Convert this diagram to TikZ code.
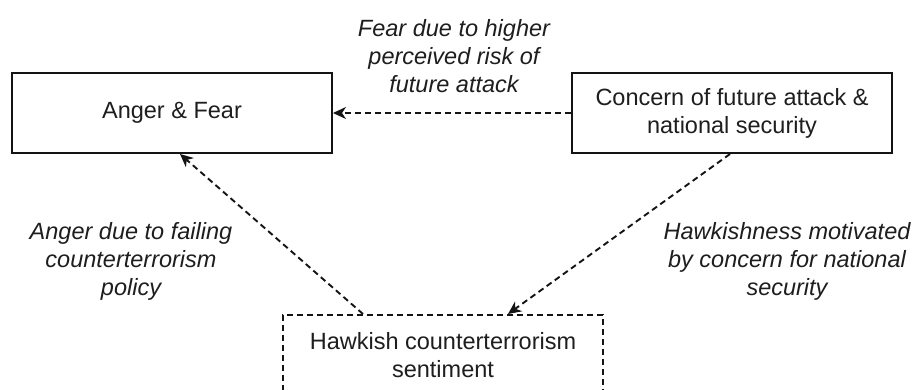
\documentclass[tikz,border=0pt]{standalone}
\usepackage{fontspec}
\setmainfont{Liberation Sans}
\usetikzlibrary{arrows.meta}
\definecolor{txt}{HTML}{1E1E1E}
\definecolor{ln}{HTML}{141414}
\tikzset{
  box/.style={draw=ln, line width=2pt, minimum width=320pt, minimum height=80pt, inner sep=0pt, align=center, text=txt, font=\fontsize{23.5}{28}\selectfont},
  dbox/.style={box, dash pattern=on 6pt off 4pt},
  lbl/.style={align=center, text=txt, font=\fontsize{23.5}{28}\selectfont\itshape, inner sep=0pt},
  conn/.style={draw=ln, line width=1.9pt, dash pattern=on 6pt off 4pt, -{Stealth[length=13pt, width=12pt, inset=4pt]}}
}
\begin{document}
\begin{tikzpicture}[x=1pt, y=-1pt]
\useasboundingbox (0,0) rectangle (917,390);
\clip (0,0) rectangle (917,390);
\fill[white] (0,0) rectangle (917,390);
\node[box] (anger) at (172,113) {Anger \& Fear};
\node[box] (concern) at (732,113) {Concern of future attack \&\\national security};
\node[dbox] (hawk) at (443,355) {Hawkish counterterrorism\\sentiment};
\node[lbl] (l1) at (454,56) {Fear due to higher\\perceived risk of\\future attack};
\node[lbl] (l2) at (131,261) {Anger due to failing\\counterterrorism\\policy};
\node[lbl] (l3) at (787,261) {Hawkishness motivated\\by concern for national\\security};
\draw[conn] (concern.west) -- (anger.east);
\draw[conn] ([xshift=-80pt]hawk.north) -- ([xshift=8pt]anger.south);
\draw[conn] ([xshift=-2pt]concern.south) -- ([xshift=65pt]hawk.north);
\end{tikzpicture}
\end{document}
